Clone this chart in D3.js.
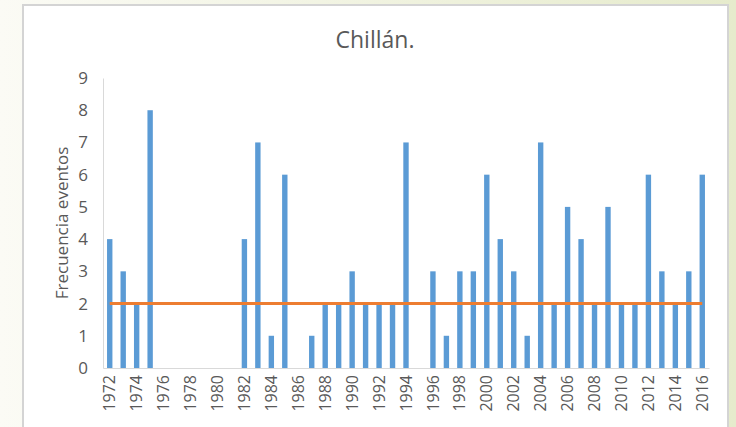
<!DOCTYPE html>
<html><head><meta charset="utf-8">
<script src="https://cdn.jsdelivr.net/npm/d3@7"></script>
<style>html,body{margin:0;padding:0;overflow:hidden;}</style>
</head><body>
<svg id="c" width="736" height="427"></svg>
<script>
const years = d3.range(1972, 2017).map(String);
const frequency = [4,3,2,8,0,0,0,0,0,0,4,7,1,6,0,1,2,2,3,2,2,2,7,0,3,1,3,3,6,4,3,1,7,2,5,4,2,5,2,2,6,3,2,3,6];
const threshold = years.map(() => 2);
const yTicks = [0,1,2,3,4,5,6,7,8,9];
const title = "Chillán.";
const yTitle = "Frecuencia eventos";

const svg = d3.select("#c");
const defs = svg.append("defs");
const g = defs.append("linearGradient").attr("id","bg").attr("x1","0").attr("x2","1").attr("y1","0").attr("y2","0");
g.append("stop").attr("offset","0").attr("stop-color","#fbfbf5");
g.append("stop").attr("offset","1").attr("stop-color","#e6ebcc");
svg.append("rect").attr("width",736).attr("height",427).attr("fill","url(#bg)");
svg.append("rect").attr("x",23).attr("y",5).attr("width",705).attr("height",430)
  .attr("fill","#fff").attr("stroke","#d4d4d4").attr("stroke-width",2);

const pLeft = 103, pRight = 709, pTop = 78, pBottom = 368;
const x = d3.scaleBand().domain(years).range([pLeft, pRight]).paddingInner(0.6).paddingOuter(0.3);
const y = d3.scaleLinear().domain([0, 9]).range([pBottom, pTop]);
const font = "Open Sans, Liberation Sans, sans-serif";

svg.append("text").attr("x",375).attr("y",48).attr("text-anchor","middle")
  .attr("font-family",font).attr("font-size",23).attr("fill","#595959").text(title);

const yAxis = svg.append("g").attr("transform",`translate(${pLeft},0)`)
  .call(d3.axisLeft(y).tickValues(yTicks).tickSize(0).tickPadding(15));
yAxis.select(".domain").attr("stroke","#d9d9d9");
yAxis.selectAll("text").attr("font-family",font).attr("font-size",17).attr("fill","#595959");

svg.append("g").selectAll("rect").data(years).join("rect")
  .attr("x", d => x(d)).attr("width", x.bandwidth())
  .attr("y", (d,i) => y(frequency[i])).attr("height", (d,i) => y(0) - y(frequency[i]))
  .attr("fill","#5b9bd5");

const xAxis = svg.append("g").attr("transform",`translate(0,${pBottom})`)
  .call(d3.axisBottom(x).tickValues(years.filter((d,i)=>i%2===0)).tickSize(0).tickPadding(0));
xAxis.select(".domain").attr("stroke","#d9d9d9");
xAxis.selectAll("text").attr("font-family",font).attr("font-size",16).attr("fill","#595959")
  .attr("transform","rotate(-90)").attr("text-anchor","end").attr("dy","0.35em").attr("x",-7).attr("y",0);

const line = d3.line().x(d => x(d[0]) + x.bandwidth()/2).y(d => y(d[1]));
svg.append("path").datum(years.map((d,i)=>[d, threshold[i]]))
  .attr("d", line).attr("fill","none").attr("stroke","#ed7d31").attr("stroke-width",3);

svg.append("text").attr("transform",`translate(68,${(pTop+pBottom)/2}) rotate(-90)`).attr("text-anchor","middle")
  .attr("font-family",font).attr("font-size",17).attr("fill","#595959").text(yTitle);
</script>
</body></html>
